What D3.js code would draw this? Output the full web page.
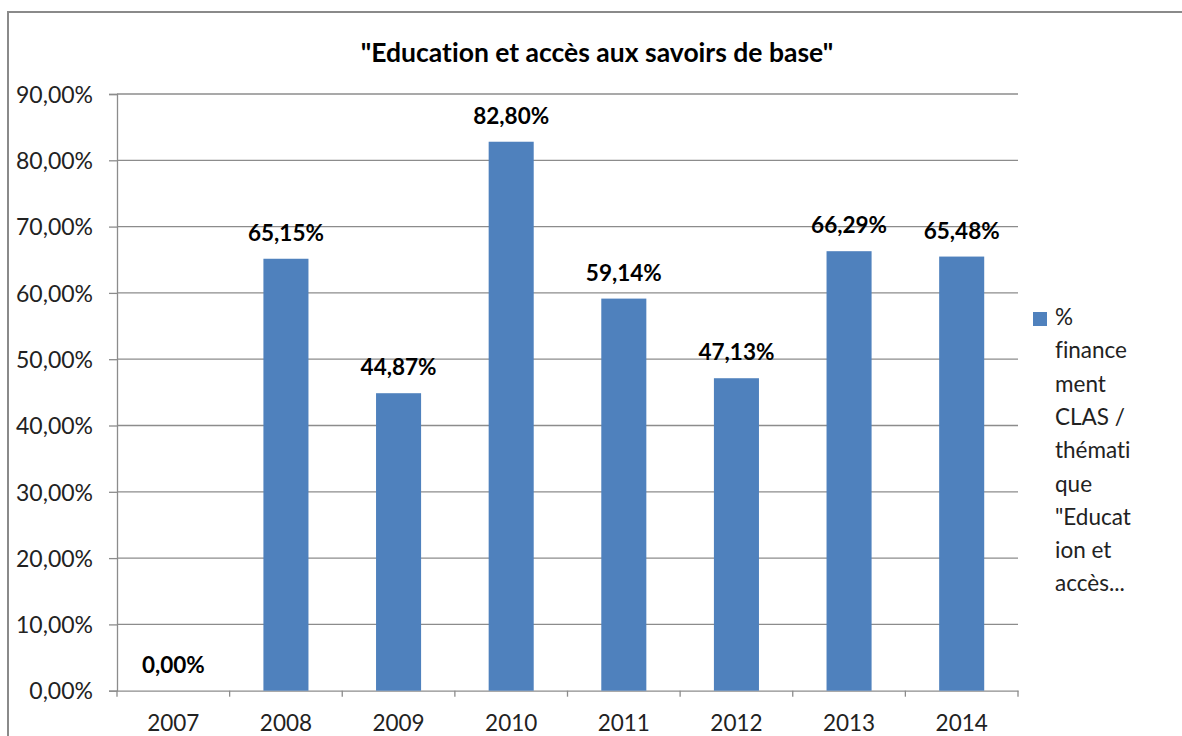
<!DOCTYPE html>
<html><head><meta charset="utf-8">
<script src="https://cdn.jsdelivr.net/npm/d3@7"></script>
<style>body{margin:0;background:#fff}svg{display:block}text{font-variant-ligatures:none;font-feature-settings:"liga" 0}</style>
</head><body>
<svg id="c" width="1182" height="736"></svg>
<script>
const categories = ["2007","2008","2009","2010","2011","2012","2013","2014"];
const values = [0, 65.15, 44.87, 82.80, 59.14, 47.13, 66.29, 65.48];
const yTicks = [0,10,20,30,40,50,60,70,80,90];
const title = "\"Education et accès aux savoirs de base\"";
const legendLines = ["%","finance","ment","CLAS /","thémati","que","\"Educat","ion et","accès..."];

const font = "Lato, 'Open Sans', sans-serif";
const svg = d3.select("#c");
const m = {left:117, right:1018, top:94, bottom:690.7};
const x = d3.scaleBand().domain(categories).range([m.left, m.right]).paddingInner(0.6).paddingOuter(0.3);
const xb = d3.scaleBand().domain(categories).range([m.left, m.right]);
const y = d3.scaleLinear().domain([0,90]).range([m.bottom, m.top]);
const fmt = v => d3.format(".2f")(v).replace(".", ",") + "%";

// border
svg.append("rect").attr("x",8).attr("y",12).attr("width",1300).attr("height",900)
  .attr("fill","none").attr("stroke","#8a8a8a").attr("stroke-width",2);

// title
svg.append("text").attr("x",597).attr("y",62).attr("text-anchor","middle")
  .attr("font-family",font).attr("font-weight","bold").attr("font-size",26.5).attr("fill","#000").text(title);

// gridlines
svg.append("g").selectAll("line").data(yTicks.filter(d=>d>0)).join("line")
  .attr("x1",m.left).attr("x2",m.right).attr("y1",d=>y(d)).attr("y2",d=>y(d))
  .attr("stroke","#8c8c8c").attr("stroke-width",1.3);

// y axis
const ya = svg.append("g").attr("transform",`translate(${m.left},0)`)
  .call(d3.axisLeft(y).tickValues(yTicks).tickFormat(fmt).tickSize(8).tickPadding(16));
ya.select(".domain").attr("stroke","#8c8c8c").attr("stroke-width",1.3);
ya.selectAll(".tick line").attr("stroke","#8c8c8c").attr("stroke-width",1.3);
ya.selectAll("text").attr("font-family",font).attr("font-size",23).attr("fill","#222").attr("dy","0.36em");

// x axis
const xa = svg.append("g").attr("transform",`translate(0,${m.bottom})`)
  .call(d3.axisBottom(xb).tickSize(0).tickPadding(24));
xa.select(".domain").attr("stroke","#8c8c8c").attr("stroke-width",1.3);
xa.selectAll("text").attr("font-family",font).attr("font-size",22.5).attr("fill","#222");
xa.selectAll(".bt").data(d3.range(categories.length+1)).join("line")
  .attr("x1",i=>m.left+i*xb.step()).attr("x2",i=>m.left+i*xb.step())
  .attr("y1",0).attr("y2",6).attr("stroke","#8c8c8c").attr("stroke-width",1.3);

// bars
svg.append("g").selectAll("rect").data(values).join("rect")
  .attr("x",(d,i)=>x(categories[i])).attr("width",x.bandwidth())
  .attr("y",d=>y(d)).attr("height",d=>y(0)-y(d)).attr("fill","#4f81bd");

// labels
svg.append("g").selectAll("text").data(values).join("text")
  .attr("x",(d,i)=>x(categories[i])+x.bandwidth()/2).attr("y",d=>y(d)-18)
  .attr("text-anchor","middle").attr("font-family",font).attr("font-weight","bold")
  .attr("font-size",22.5).attr("fill","#000").text(fmt);

// legend
svg.append("rect").attr("x",1033).attr("y",312).attr("width",14).attr("height",14).attr("fill","#4f81bd");
svg.append("g").selectAll("text").data(legendLines).join("text")
  .attr("x",1055).attr("y",(d,i)=>325+i*33.3)
  .attr("font-family",font).attr("font-size",22.5).attr("fill","#222").text(d=>d);
</script>
</body></html>
